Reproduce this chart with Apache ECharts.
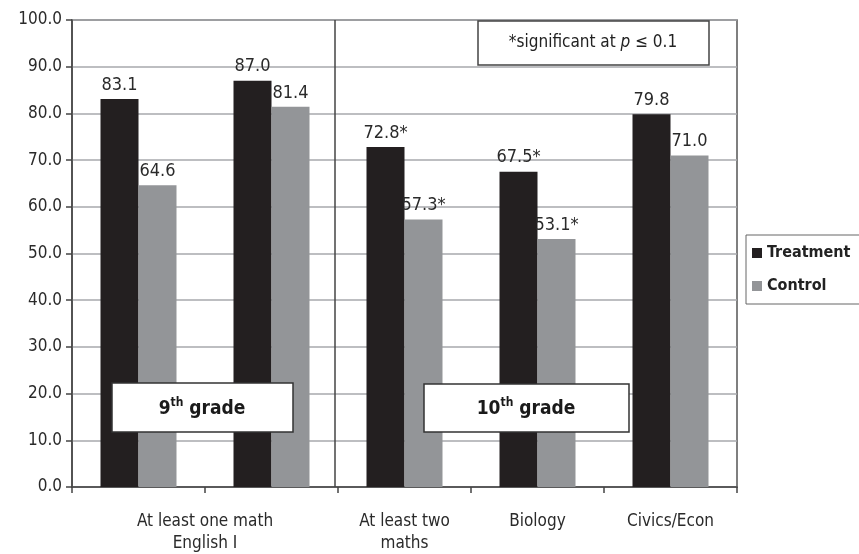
<!DOCTYPE html>
<html>
<head>
<meta charset="utf-8">
<script src="https://cdn.jsdelivr.net/npm/echarts@6/dist/echarts.min.js"></script>
<style>html,body{margin:0;padding:0;background:#fff}#c{width:859px;height:554px}</style>
</head>
<body>
<div id="c"></div>
<script>
var categories = ["At least one math", "English I", "At least two maths", "Biology", "Civics/Econ"];
var treatment = [83.1, 87.0, 72.8, 67.5, 79.8];
var control = [64.6, 81.4, 57.3, 53.1, 71.0];
var treatmentSig = [false, false, true, true, false];
var controlSig = [false, false, true, true, false];
var yTicks = [0, 10, 20, 30, 40, 50, 60, 70, 80, 90, 100];

var FONT = "'Liberation Sans Narrow', 'DejaVu Sans Condensed', 'Liberation Sans', sans-serif";
var TXT = '#2a2a2a';

var chart = echarts.init(document.getElementById('c'));

function lbl(sig) {
  return {
    show: true, position: 'top', distance: 5,
    fontFamily: FONT, fontSize: 18, color: TXT,
    formatter: function (p) { return p.value.toFixed(1) + (sig[p.dataIndex] ? '*' : ''); }
  };
}

function supText(main) {
  return {
    text: '{b|' + main + '}{s|th}{b| grade}', align: 'center', verticalAlign: 'middle',
    rich: {
      b: { fontFamily: FONT, fontSize: 19, fontWeight: 'bold', fill: '#1a1a1a', lineHeight: 22, verticalAlign: 'bottom' },
      s: { fontFamily: FONT, fontSize: 12, fontWeight: 'bold', fill: '#1a1a1a', lineHeight: 22, verticalAlign: 'top', padding: [0, 0, 8, 0] }
    }
  };
}

chart.setOption({
  animation: false,
  textStyle: { fontFamily: FONT },
  grid: { left: 72, right: 122, top: 20, bottom: 67, outerBoundsMode: 'none', containLabel: false,
          show: true, borderColor: '#555', borderWidth: 1.5 },
  legend: {
    data: ['Treatment', 'Control'],
    orient: 'vertical', left: 746, top: 235,
    itemWidth: 10, itemHeight: 10, itemGap: 17,
    padding: [10, 30, 10, 6],
    borderColor: '#666', borderWidth: 1,
    textStyle: { fontFamily: FONT, fontSize: 16, color: '#222', fontWeight: 'bold' },
    icon: 'rect'
  },
  xAxis: {
    type: 'category', data: categories,
    axisLine: { lineStyle: { color: '#444', width: 1.5 } },
    axisTick: { show: true, length: 6, lineStyle: { color: '#444', width: 1.5 } },
    axisLabel: {
      margin: 24, color: TXT, fontFamily: FONT, fontSize: 17, lineHeight: 22,
      interval: 0,
      formatter: function (v, i) {
        if (i === 0) return '{s|' + categories[0] + '}\n{s|' + categories[1] + '}';
        if (i === 1) return '';
        if (i === 2) return 'At least two\nmaths';
        return v;
      },
      rich: { s: { padding: [0, 0, 0, 133], fontSize: 17, fontFamily: FONT, color: TXT, lineHeight: 22 } }
    }
  },
  yAxis: {
    type: 'value', min: 0, max: 100, interval: 10,
    axisLine: { show: true, lineStyle: { color: '#444', width: 1.5 } },
    axisTick: { show: true, length: 6, lineStyle: { color: '#444', width: 1.5 } },
    splitLine: { lineStyle: { color: '#a7a9ac', width: 1.5 } },
    axisLabel: {
      margin: 10, color: TXT, fontFamily: FONT, fontSize: 17,
      formatter: function (v) { return yTicks.indexOf(v) >= 0 ? v.toFixed(1) : ''; }
    }
  },
  series: [
    { name: 'Treatment', type: 'bar', data: treatment, barWidth: 38, barGap: '0%',
      itemStyle: { color: '#231f20' }, label: lbl(treatmentSig) },
    { name: 'Control', type: 'bar', data: control, barWidth: 38,
      itemStyle: { color: '#939598' }, label: lbl(controlSig) }
  ]
});

// divider between 9th and 10th grade groups, positioned through the axes
var xa = chart.convertToPixel({ xAxisIndex: 0 }, categories[1]);
var xb = chart.convertToPixel({ xAxisIndex: 0 }, categories[2]);
var yTop = chart.convertToPixel({ yAxisIndex: 0 }, 100);
var yBot = chart.convertToPixel({ yAxisIndex: 0 }, 0);
var xd = (xa + xb) / 2 - 3;

chart.setOption({
  graphic: [
    { type: 'line', shape: { x1: xd, y1: yTop, x2: xd, y2: yBot },
      style: { stroke: '#444', lineWidth: 1.5 }, z: 50 },
    { type: 'rect', shape: { x: 478, y: 21, width: 231, height: 44 },
      style: { fill: '#fff', stroke: '#444', lineWidth: 1.5 }, z: 100 },
    { type: 'text', x: 593, y: 43, z: 101,
      style: { text: '{a|*significant at }{i|p}{a| ≤ 0.1}', align: 'center', verticalAlign: 'middle',
        rich: { a: { fontFamily: FONT, fontSize: 17, fill: '#222' },
                i: { fontFamily: FONT, fontSize: 17, fill: '#222', fontStyle: 'italic' } } } },
    { type: 'rect', shape: { x: 112, y: 383, width: 181, height: 49 },
      style: { fill: '#fff', stroke: '#333', lineWidth: 1.5 }, z: 100 },
    { type: 'text', x: 202, y: 408, z: 101, style: supText('9') },
    { type: 'rect', shape: { x: 424, y: 384, width: 205, height: 48 },
      style: { fill: '#fff', stroke: '#333', lineWidth: 1.5 }, z: 100 },
    { type: 'text', x: 526, y: 408, z: 101, style: supText('10') }
  ]
});
</script>
</body>
</html>
